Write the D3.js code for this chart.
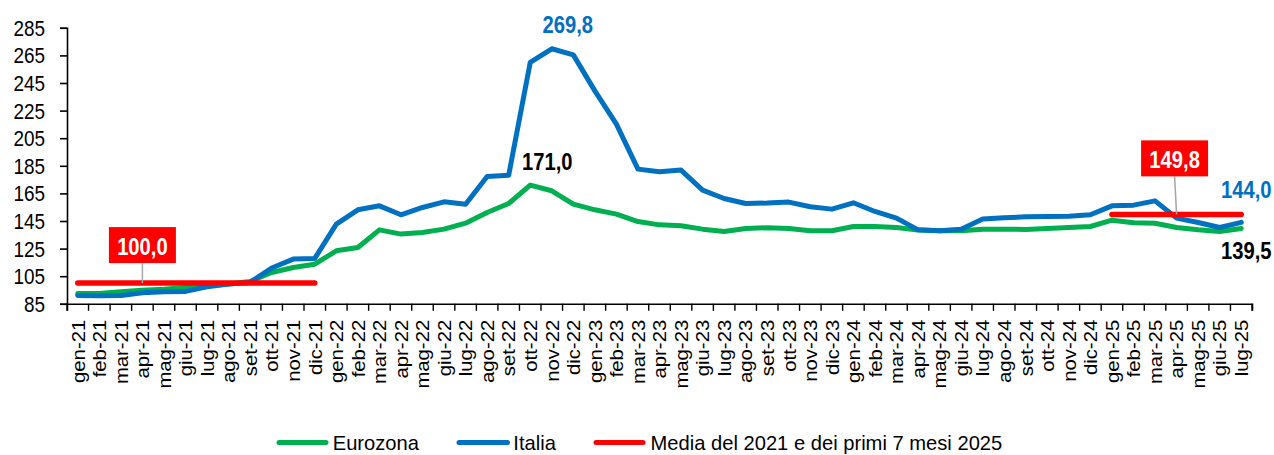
<!DOCTYPE html>
<html><head><meta charset="utf-8">
<script src="https://cdn.jsdelivr.net/npm/d3@7"></script>
<style>
html,body{margin:0;padding:0;background:#fff;}
svg{display:block;font-family:"Liberation Sans",Arial,sans-serif;}
</style></head>
<body><svg id="chart" width="1274" height="455"></svg>
<script>
const months = ["gen-21","feb-21","mar-21","apr-21","mag-21","giu-21","lug-21","ago-21","set-21","ott-21","nov-21","dic-21",
"gen-22","feb-22","mar-22","apr-22","mag-22","giu-22","lug-22","ago-22","set-22","ott-22","nov-22","dic-22",
"gen-23","feb-23","mar-23","apr-23","mag-23","giu-23","lug-23","ago-23","set-23","ott-23","nov-23","dic-23",
"gen-24","feb-24","mar-24","apr-24","mag-24","giu-24","lug-24","ago-24","set-24","ott-24","nov-24","dic-24",
"gen-25","feb-25","mar-25","apr-25","mag-25","giu-25","lug-25"];

const eurozona = [92.5,92.5,93.7,94.9,95.6,96.8,98.0,99.3,101.2,107.7,111.3,113.7,
123.4,125.8,138.6,135.5,136.7,139.1,143.4,151.2,157.7,171.0,166.9,157.2,
153.1,150.0,144.6,142.2,141.5,139.1,137.4,139.6,140.1,139.6,137.9,137.9,
141.0,141.0,140.3,138.4,137.9,137.9,139.1,139.1,138.9,139.6,140.3,141.0,
145.6,143.7,143.4,140.3,138.6,137.4,139.5];

const italia = [91.0,90.8,91.0,93.0,93.7,94.0,97.3,99.3,100.5,110.9,117.4,117.9,
142.7,153.1,156.0,149.5,154.8,158.9,157.2,177.3,178.2,259.9,269.8,265.4,
239.3,215.2,182.6,180.7,181.9,167.4,161.3,157.7,158.0,158.7,155.3,153.6,
158.2,151.9,147.1,138.6,137.9,139.1,146.4,147.3,148.0,148.3,148.5,149.5,
156.0,156.5,159.6,147.1,143.9,140.3,144.0];

const mediaValues = [100.0, 149.8];
const mediaStart = ["gen-21","gen-25"];
const mediaEnd = ["dic-21","lug-25"];
const mediaLabelAt = ["apr-21","apr-25"];

const yTicks = [85,105,125,145,165,185,205,225,245,265,285];
const legendNames = ["Eurozona","Italia","Media del 2021 e dei primi 7 mesi 2025"];

const GREEN = "#00B050", BLUE = "#0070C0", RED = "#FF0000";
const fmt = d3.formatLocale({decimal:",",thousands:".",grouping:[3],currency:["€",""]}).format(".1f");

const svg = d3.select("#chart");
const x = d3.scaleBand().domain(months).range([67, 1252]).padding(0);
const y = d3.scaleLinear().domain([85, 285]).range([303.8, 27.8]);
const cx = m => x(m) + x.bandwidth()/2;

function squeeze(sel, sx){
  sel.each(function(){
    const t = d3.select(this);
    const tx = +t.attr("x")||0, ty = +t.attr("y")||0;
    t.attr("x",0).attr("y",0).attr("transform",`translate(${tx},${ty}) scale(${sx},1)`);
  });
}

// Y axis
const yAxis = svg.append("g").attr("transform","translate(67,0)")
  .call(d3.axisLeft(y).tickValues(yTicks).tickSize(7).tickPadding(15).tickFormat(d3.format("d")));
yAxis.select(".domain").attr("stroke","#000").attr("stroke-width",1.6);
yAxis.selectAll(".tick line").attr("stroke","#000").attr("stroke-width",1.6);
yAxis.selectAll(".tick text").attr("font-size",21.5).attr("fill","#000")
  .attr("font-family","Liberation Sans, Arial, sans-serif")
  .each(function(){
    const t = d3.select(this);
    t.attr("dy",null).attr("transform","translate(-22,7.5) scale(0.88,1)").attr("x",0).attr("y",0);
  });

// X axis
const xAxis = svg.append("g").attr("transform",`translate(0,${y(85)})`)
  .call(d3.axisBottom(x).tickSize(7).tickPadding(0));
xAxis.select(".domain").attr("stroke","#000").attr("stroke-width",1.6);
xAxis.selectAll(".tick line").attr("stroke","#000").attr("stroke-width",1.4)
  .attr("x1",-x.bandwidth()/2).attr("x2",-x.bandwidth()/2);
xAxis.append("line").attr("x1",1252).attr("x2",1252).attr("y1",0).attr("y2",7)
  .attr("stroke","#000").attr("stroke-width",1.4);
xAxis.selectAll(".tick text").attr("font-size",20.3).attr("fill","#000")
  .attr("font-family","Liberation Sans, Arial, sans-serif")
  .attr("text-anchor","end").attr("transform","scale(0.92,1) rotate(-90)")
  .attr("x",-16).attr("y",0).attr("dy","0.36em");

// Lines
const line = d3.line().x((d,i)=>cx(months[i])).y(d=>y(d));
svg.append("path").datum(eurozona).attr("d",line).attr("fill","none")
  .attr("stroke",GREEN).attr("stroke-width",5).attr("stroke-linejoin","round").attr("stroke-linecap","round");
svg.append("path").datum(italia).attr("d",line).attr("fill","none")
  .attr("stroke",BLUE).attr("stroke-width",5).attr("stroke-linejoin","round").attr("stroke-linecap","round");

// Media lines
mediaValues.forEach((v,k)=>{
  svg.append("line").attr("x1",cx(mediaStart[k])).attr("x2",cx(mediaEnd[k]))
    .attr("y1",y(v)).attr("y2",y(v)).attr("stroke",RED).attr("stroke-width",5.5).attr("stroke-linecap","round");
});

// Media callouts
const boxOff = [{dx:0, top:-56}, {dx:-2, top:-74}];
mediaValues.forEach((v,k)=>{
  const px = cx(mediaLabelAt[k]), py = y(v);
  const o = boxOff[k];
  const bx = px + o.dx, bTop = py + o.top, bw = 67, bh = 36;
  svg.append("line").attr("x1",bx).attr("y1",bTop+bh).attr("x2",px).attr("y2",py)
    .attr("stroke","#A6A6A6").attr("stroke-width",1.5);
  svg.append("rect").attr("x",bx-bw/2).attr("y",bTop).attr("width",bw).attr("height",bh).attr("fill",RED);
  svg.append("text").attr("x",bx).attr("y",bTop+28).attr("text-anchor","middle")
    .attr("font-size",23.5).attr("font-weight","bold").attr("fill","#fff").text(fmt(v))
    .call(squeeze,0.86);
});

// Data labels
const iMaxIt = italia.indexOf(d3.max(italia));
const iMaxEu = eurozona.indexOf(d3.max(eurozona));
const last = months.length-1;
const labels = [
  {m:months[iMaxIt], v:italia[iMaxIt], dx:16, dy:-16, c:BLUE},
  {m:months[iMaxEu], v:eurozona[iMaxEu], dx:17, dy:-15.5, c:"#000"},
  {m:months[last], v:italia[last], dx:5, dy:-24.5, c:BLUE},
  {m:months[last], v:eurozona[last], dx:5, dy:30, c:"#000"}
];
labels.forEach(l=>{
  svg.append("text").attr("x",cx(l.m)+l.dx).attr("y",y(l.v)+l.dy).attr("text-anchor","middle")
    .attr("font-size",23.5).attr("font-weight","bold").attr("fill",l.c).text(fmt(l.v))
    .call(squeeze,0.86);
});

// Legend
const legColors = [GREEN, BLUE, RED];
const legLineX = [[279,326],[459,507.5],[596,643]];
const legTextX = [332.7, 513.3, 650.5];
const leg = svg.append("g");
legendNames.forEach((n,i)=>{
  leg.append("line").attr("x1",legLineX[i][0]).attr("x2",legLineX[i][1]).attr("y1",442.5).attr("y2",442.5)
    .attr("stroke",legColors[i]).attr("stroke-width",5).attr("stroke-linecap","round");
  leg.append("text").attr("x",legTextX[i]).attr("y",450).attr("font-size",21).attr("fill","#000").text(n)
    .call(squeeze,0.96);
});
</script></body></html>
